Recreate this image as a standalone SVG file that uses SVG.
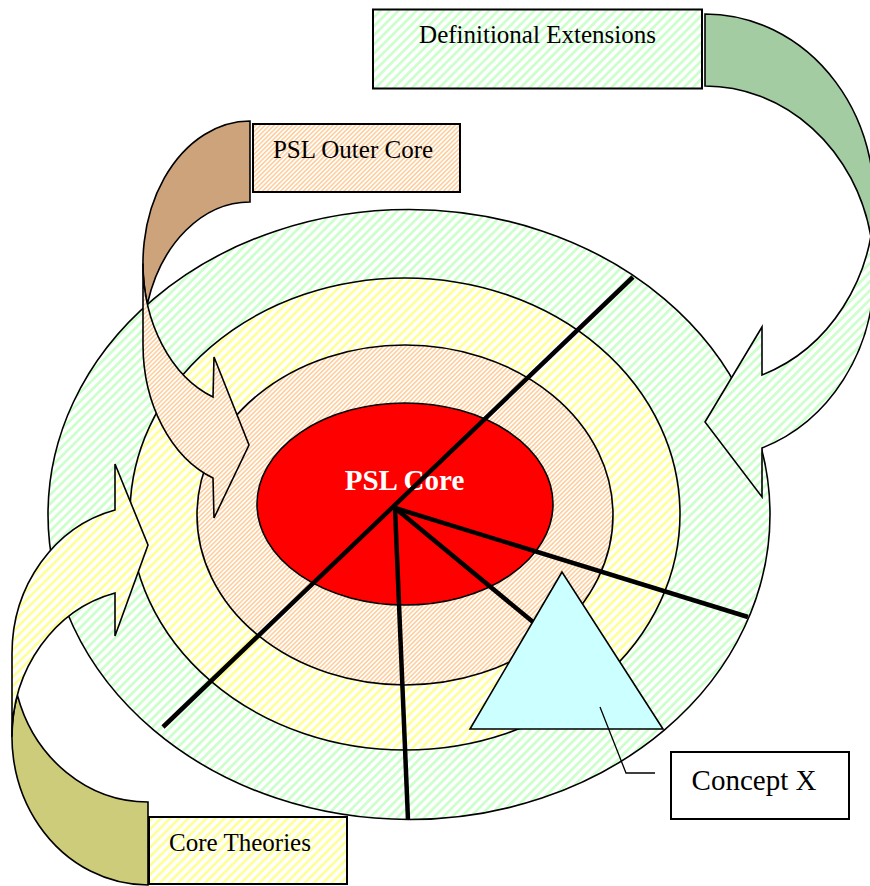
<svg xmlns="http://www.w3.org/2000/svg" width="870" height="886" viewBox="0 0 870 886">
<style>
.o{stroke:#000;stroke-width:1.6;stroke-linejoin:miter}
.bx{stroke:#000;stroke-width:2}
.rad{stroke:#000;stroke-width:4.5;fill:none}
.lbl{font-family:"Liberation Serif","Times New Roman",serif;font-size:25px;fill:#000;text-anchor:middle}
</style>
<defs>
<pattern id="hg" patternUnits="userSpaceOnUse" width="6.4" height="6.4" patternTransform="rotate(45)">
<rect width="6.4" height="6.4" fill="#fff"/><rect width="2.7" height="6.4" fill="#ccffcc"/>
</pattern>
<pattern id="hy" patternUnits="userSpaceOnUse" width="6.4" height="6.4" patternTransform="rotate(45)">
<rect width="6.4" height="6.4" fill="#fff"/><rect width="2.7" height="6.4" fill="#ffff99"/>
</pattern>
<pattern id="hb" patternUnits="userSpaceOnUse" width="3.2" height="3.2" patternTransform="rotate(45)">
<rect width="3.2" height="3.2" fill="#fff"/><rect width="1.5" height="3.2" fill="#ffcc99"/>
</pattern>
</defs>
<g id="ring-outer"><ellipse class="o" cx="409" cy="514.5" rx="361" ry="305" fill="url(#hg)"/></g>
<g id="ring-core-theories"><ellipse class="o" cx="405" cy="514" rx="275" ry="236" fill="url(#hy)"/></g>
<g id="ring-outer-core"><ellipse class="o" cx="405" cy="515" rx="208" ry="170" fill="url(#hb)"/></g>
<g id="psl-core">
<ellipse class="o" cx="405" cy="504" rx="148" ry="101" fill="#ff0000"/>
<text x="404.5" y="490" style="font-family:'Liberation Serif','Times New Roman',serif;font-size:29px;font-weight:bold;fill:#fff;text-anchor:middle">PSL Core</text>
</g>
<g id="connectors">
<line class="rad" x1="633" y1="277" x2="163" y2="727"/>
<line class="rad" x1="395" y1="508" x2="408" y2="820"/>
<line class="rad" x1="395" y1="508" x2="550" y2="636"/>
<line class="rad" x1="395" y1="508" x2="748" y2="617"/>
</g>
<g id="concept-x-shape"><polygon class="o" points="562,572 470,729 663,729" fill="#ccffff"/></g>
<g id="callout"><polyline points="600,707 626,773 655,773" fill="none" stroke="#000" stroke-width="1.3"/></g>
<g id="concept-x-label">
<rect class="bx" x="671" y="752" width="178" height="67" fill="#fff"/>
<text x="754" y="790" style="font-family:'Liberation Serif','Times New Roman',serif;font-size:29px;fill:#000;text-anchor:middle">Concept X</text>
</g>
<g id="arrow-definitional">
<path class="o" fill="#a3cca3" d="M705,14 A169,186 0 0 1 870.8,236 A169,186 0 0 0 705,86 Z"/>
<path class="o" fill="url(#hg)" d="M874,200 A169,186 0 0 1 762,375 L762,327 L705,422 L762,497 L762,448 A169,186 0 0 0 874,272 Z"/>
</g>
<g id="arrow-outer-core">
<path class="o" fill="#cca37a" d="M250,121 A107,142.4 0 0 0 147.4,303.9 A107,142.4 0 0 1 250,202 Z"/>
<path class="o" fill="url(#hb)" d="M143,263.4 A107,142.4 0 0 0 213,397 L214,357 L249,445 L214,518 L213,478 A107,142.4 0 0 1 143,344.4 Z"/>
</g>
<g id="arrow-core-theories">
<path class="o" fill="#cccc7a" d="M148,885 A136,148.2 0 0 1 17.4,695.3 A136,148.2 0 0 0 148,802 Z"/>
<path class="o" fill="url(#hy)" d="M12,736.8 A136,148.2 0 0 1 115,593 L115,636 L148,545 L115,464 L115,510 A136,148.2 0 0 0 12,653.8 Z"/>
</g>
<g id="box-definitional">
<rect class="bx" x="373" y="9.5" width="329" height="79" fill="url(#hg)"/>
<text class="lbl" x="537.5" y="43">Definitional Extensions</text>
</g>
<g id="box-outer-core">
<rect class="bx" x="253" y="124" width="207" height="68" fill="url(#hb)"/>
<text class="lbl" x="353" y="158">PSL Outer Core</text>
</g>
<g id="box-core-theories">
<rect class="bx" x="149" y="817" width="198" height="67" fill="url(#hy)"/>
<text class="lbl" x="240" y="851">Core Theories</text>
</g>
</svg>
